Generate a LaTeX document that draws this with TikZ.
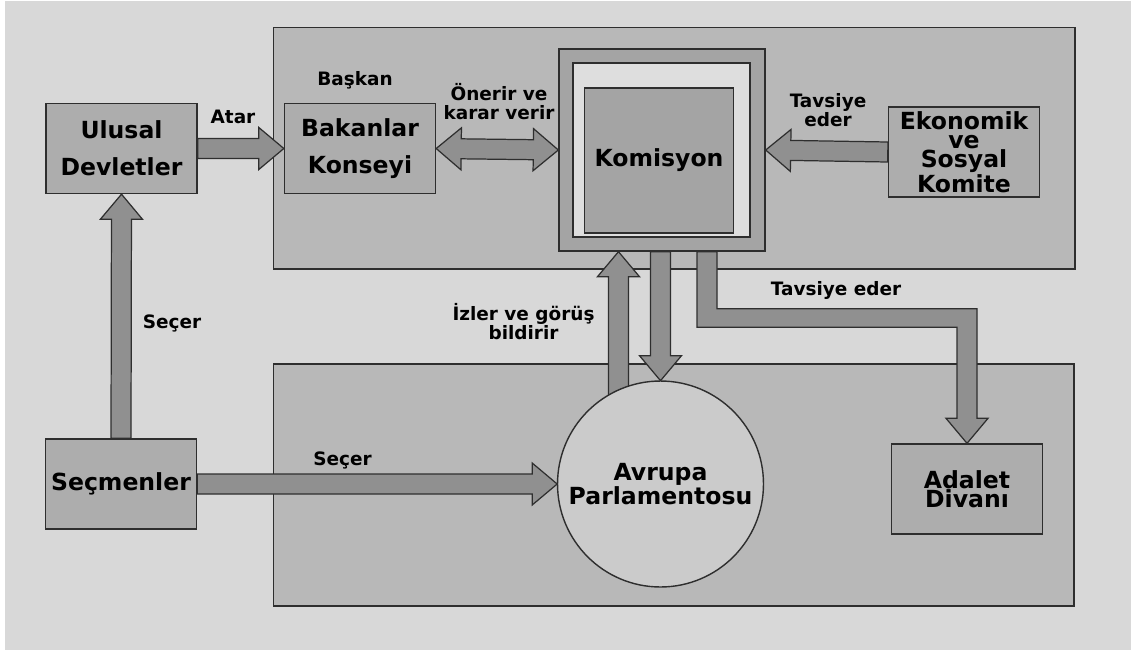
\documentclass[tikz,border=0pt]{standalone}
\usepackage{fontspec}
\setmainfont{DejaVu Sans}
\usetikzlibrary{calc}

\definecolor{bgclr}{HTML}{D8D8D8}
\definecolor{panelclr}{HTML}{B8B8B8}
\definecolor{boxclr}{HTML}{ADADAD}
\definecolor{arrclr}{HTML}{909090}
\definecolor{komclr}{HTML}{A4A4A4}
\definecolor{bandclr}{HTML}{DEDEDE}
\definecolor{parlclr}{HTML}{CBCBCB}
\definecolor{lineclr}{HTML}{2E2E2E}

% block arrow from #1 to #2
\newcommand{\fatarrow}[2]{%
  \coordinate (fa-b) at ($(#2)!0.5cm!(#1)$);
  \draw[fat] ($(#1)!0.2cm!90:(#2)$) -- ($(fa-b)!0.2cm!-90:(#1)$) -- ($(fa-b)!0.42cm!-90:(#1)$)
    -- (#2) -- ($(fa-b)!0.42cm!90:(#1)$) -- ($(fa-b)!0.2cm!90:(#1)$) -- ($(#1)!0.2cm!-90:(#2)$) -- cycle;}
% block arrow with two heads
\newcommand{\fatboth}[2]{%
  \coordinate (fa-a) at ($(#1)!0.5cm!(#2)$);
  \coordinate (fa-b) at ($(#2)!0.5cm!(#1)$);
  \draw[fat] (#1) -- ($(fa-a)!0.42cm!90:(#2)$) -- ($(fa-a)!0.2cm!90:(#2)$) -- ($(fa-b)!0.2cm!-90:(#1)$)
    -- ($(fa-b)!0.42cm!-90:(#1)$) -- (#2) -- ($(fa-b)!0.42cm!90:(#1)$) -- ($(fa-b)!0.2cm!90:(#1)$)
    -- ($(fa-a)!0.2cm!-90:(#2)$) -- ($(fa-a)!0.42cm!-90:(#2)$) -- cycle;}

\begin{document}
\begin{tikzpicture}[x=0.02cm, y=-0.02cm,
    box/.style={draw=lineclr, fill=boxclr, line width=0.8pt, minimum width=3.02cm, minimum height=1.8cm,
      inner sep=0pt, align=center, font=\bfseries\fontsize{13.4}{21}\selectfont},
    tight/.style={font=\bfseries\fontsize{13.4}{11}\selectfont},
    panel/.style={draw=lineclr, fill=panelclr, line width=0.9pt},
    fat/.style={draw=lineclr, fill=arrclr, line width=0.7pt, line join=miter},
    note/.style={font=\bfseries\fontsize{10.5}{10.8}\selectfont, align=center, inner sep=0pt}]
		\useasboundingbox (0,0) rectangle (1131,650);
		\fill[white] (0,0) rectangle (1131,650);
		\fill[bgclr] (5,1) rectangle (1131,650);
	
		% Define panels
		\draw[panel] (273.5,27.5) rectangle (1075,269);
		\draw[panel] (273.5,364) rectangle (1074,606);
		
		% Define boxes
		\node[box] (ulusal) at (121.5,148.5) {Ulusal\\Devletler};
		\node[box] (bakanlar) at (360,148.5) {Bakanlar\\Konseyi};
		\node[box] (secmenler) at (121,484) {Seçmenler};
		\node[box, tight] (ekosos) at (964,152) {Ekonomik\\ve\\Sosyal\\Komite};
		\node[box, tight] (adalet) at (967,489) {Adalet\\Divanı};
		
		% Define Komisyon
		\node[box, fill=komclr, minimum width=4.12cm, minimum height=4.04cm] (komisyon) at (662,150) {};
		\node[box, fill=bandclr, minimum width=3.54cm, minimum height=3.48cm] (komband) at (661.5,150) {};
		\node[box, fill=komclr, minimum width=2.97cm, minimum height=2.9cm] (komic) at (659,160.5) {Komisyon};
		
		% Define Parlamento
		\coordinate (parlc) at (660.5,484);
		\path (parlc) node[circle, minimum size=4.12cm, inner sep=0pt] (parlamento) {};
		
		% Arrows
		\fatarrow{ulusal.east}{bakanlar.west}
		\fatboth{bakanlar.east}{komisyon.west}
		\fatarrow{ekosos.west}{komisyon.east}
		\fatarrow{secmenler.north}{ulusal.south}
		\fatarrow{secmenler.east}{parlamento.west}
		\coordinate (izs) at ($(parlamento.114)+(0,10)$);
		\fatarrow{izs}{izs |- komisyon.south}
		\coordinate (ks) at (parlamento.north |- komisyon.south);
		\fatarrow{ks}{parlamento.north}
		
		\coordinate (tv-s) at ($(komisyon.south)+(45,0)$);
		\coordinate (tv-k) at ($(adalet.north)+(0,-126)$);
		\coordinate (tv-b) at ($(adalet.north)+(0,-25)$);
		\draw[fat] ($(tv-s)+(-10,0)$) |- ($(tv-k)+(-10,10)$) -- ($(tv-b)+(-10,0)$) -- ($(tv-b)+(-21,0)$)
		  -- (adalet.north) -- ($(tv-b)+(21,0)$) -- ($(tv-b)+(10,0)$) |- ($(tv-s)+(10,57)$) -- ($(tv-s)+(10,0)$) -- cycle;
		
		\node[draw=lineclr, fill=parlclr, line width=0.8pt, circle, minimum size=4.12cm, inner sep=0pt,
		  align=center, tight] (parlbody) at (parlc) {Avrupa\\Parlamentosu};
		
		% Labels
		\node[note] (atar) at (233,117) {Atar};
		\node[note] (baskan) at (355,80) {Başkan};
		\node[note] (onerir) at (499,102) {Önerir ve\\karar verir};
		\node[note] (tavsiye1) at (828,110) {Tavsiye\\eder};
		\node[note] (secer1) at (172,323) {Seçer};
		\node[note] (izler) at (523.5,322) {İzler ve görüş\\bildirir};
		\node[note] (tavsiye2) at (836,290) {Tavsiye eder};
		\node[note] (secer2) at (342.5,460) {Seçer};
	\end{tikzpicture}
\end{document}
